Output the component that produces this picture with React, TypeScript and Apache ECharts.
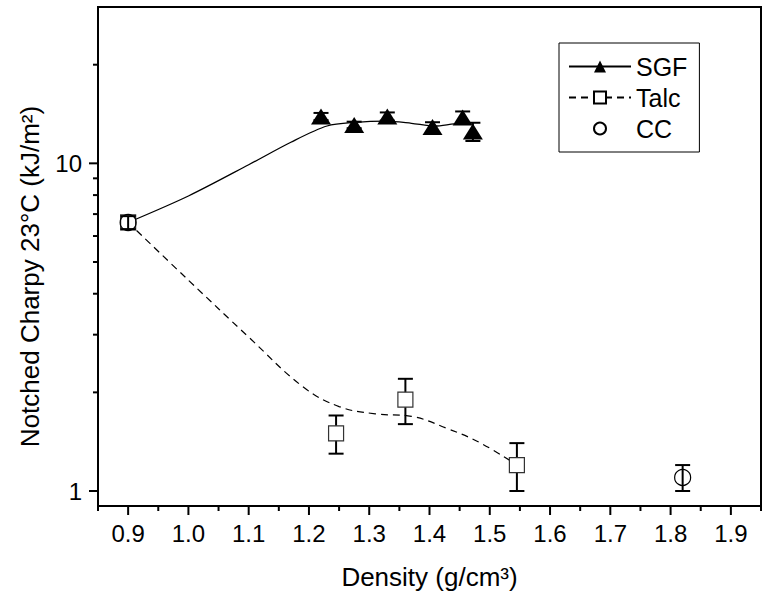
import React, { useEffect, useRef } from "react";
import * as echarts from "echarts";

// ---- data ----
const sgfDensity = [1.22, 1.275, 1.33, 1.405, 1.455, 1.472];
const sgfCharpy = [13.9, 13.1, 13.9, 12.9, 13.8, 12.5];
const sgfError = [0.35, 0.3, 0.4, 0.45, 0.6, 0.8];

const talcDensity = [0.9, 1.245, 1.36, 1.545];
const talcCharpy = [6.6, 1.5, 1.9, 1.2];
const talcError = [0.3, 0.2, 0.3, 0.2];

const ccDensity = [0.9, 1.82];
const ccCharpy = [6.6, 1.1];
const ccError = [0.3, 0.1];

// smoothed guide curves (as drawn in the reference)
const sgfFitDensity = [0.9, 1.0, 1.1, 1.17, 1.23, 1.278, 1.327, 1.37, 1.409, 1.441, 1.47];
const sgfFitCharpy = [6.6, 7.95, 9.9, 11.6, 13.0, 13.34, 13.45, 13.25, 13.0, 13.2, 13.3];

const talcFitDensity = [0.9, 1.0, 1.1, 1.19, 1.25, 1.31, 1.37, 1.43, 1.485, 1.545];
const talcFitCharpy = [6.6, 4.4, 2.95, 2.08, 1.81, 1.72, 1.69, 1.55, 1.4, 1.2];

// axes
const xMin = 0.85;
const xMax = 1.95;
const yMin = 0.9;
const yMax = 30;
const xMajorTicks = [0.9, 1.0, 1.1, 1.2, 1.3, 1.4, 1.5, 1.6, 1.7, 1.8, 1.9];
const xMinorTicks = [0.85, 0.95, 1.05, 1.15, 1.25, 1.35, 1.45, 1.55, 1.65, 1.75, 1.85, 1.95];
const yMajorTicks = [1, 10];
const yMinorTicks = [2, 3, 4, 5, 6, 7, 8, 9, 20];

const FONT = "'Liberation Sans', Arial, Helvetica, sans-serif";

const zip = (xs: number[], ys: number[]) => xs.map((x, i) => [x, ys[i]]);
const errData = (xs: number[], ys: number[], es: number[]) =>
  xs.map((x, i) => [x, ys[i] - es[i], ys[i] + es[i]]);

const errorBarSeries = (name: string, data: number[][], z: number) => ({
  type: "custom",
  name,
  silent: true,
  z,
  clip: false,
  encode: { x: 0, y: [1, 2] },
  data,
  renderItem: (_p: any, api: any) => {
    const x = api.value(0);
    const lo = api.coord([x, api.value(1)]);
    const hi = api.coord([x, api.value(2)]);
    const w = 7.5;
    const st = { stroke: "#000", lineWidth: 2 };
    return {
      type: "group",
      children: [
        { type: "line", shape: { x1: lo[0], y1: lo[1], x2: hi[0], y2: hi[1] }, style: st },
        { type: "line", shape: { x1: lo[0] - w, y1: lo[1], x2: lo[0] + w, y2: lo[1] }, style: st },
        { type: "line", shape: { x1: hi[0] - w, y1: hi[1], x2: hi[0] + w, y2: hi[1] }, style: st },
      ],
    };
  },
});

const tickSeries = (data: number[][], axis: "x" | "y", len: number) => ({
  type: "custom",
  silent: true,
  clip: false,
  z: 10,
  encode: { x: 0, y: 1 },
  data,
  renderItem: (_p: any, api: any) => {
    const p = api.coord([api.value(0), api.value(1)]);
    const shape =
      axis === "x"
        ? { x1: p[0], y1: p[1], x2: p[0], y2: p[1] + len }
        : { x1: p[0], y1: p[1], x2: p[0] - len, y2: p[1] };
    return { type: "line", shape, style: { stroke: "#000", lineWidth: 2 } };
  },
});

export default function App() {
  const ref = useRef<HTMLDivElement>(null);
  useEffect(() => {
    if (!ref.current) return;
    const chart = echarts.init(ref.current, null, { renderer: "svg" });
    chart.setOption({
      animation: false,
      backgroundColor: "#fff",
      textStyle: { fontFamily: FONT, color: "#000" },
      grid: {
        left: 98,
        top: 7,
        right: -10,
        bottom: 92,
        show: true,
        borderColor: "#000",
        borderWidth: 2,
        backgroundColor: "transparent",
      },
      legend: {
        orient: "vertical",
        left: 559,
        top: 43,
        padding: [11, 12, 11, 9],
        itemGap: 6,
        itemWidth: 62,
        itemHeight: 15,
        borderColor: "#000",
        borderWidth: 1,
        backgroundColor: "#fff",
        textStyle: { fontFamily: FONT, fontSize: 25, color: "#000" },
        data: ["SGF", "Talc", "CC"],
        selectedMode: false,
      },
      xAxis: {
        type: "value",
        min: xMin,
        max: xMax,
        interval: 0.05,
        splitLine: { show: false },
        axisTick: { show: false },
        axisLine: { lineStyle: { color: "#000", width: 2 } },
        axisLabel: {
          margin: 15,
          fontSize: 24,
          fontFamily: FONT,
          color: "#000",
          formatter: (v: number) => (Math.round(v * 20) % 2 === 0 ? v.toFixed(1) : ""),
        },
        name: "Density (g/cm³)",
        nameLocation: "middle",
        nameGap: 58,
        nameTextStyle: { fontSize: 26, fontFamily: FONT, color: "#000" },
      },
      yAxis: {
        type: "log",
        logBase: 10,
        min: yMin,
        max: yMax,
        splitLine: { show: false },
        axisTick: { show: false },
        minorTick: { show: false },
        axisLine: { lineStyle: { color: "#000", width: 2 } },
        axisLabel: {
          margin: 16,
          fontSize: 24,
          fontFamily: FONT,
          color: "#000",
          formatter: (v: number) =>
            Math.abs(v - 1) < 1e-6 ? "1" : Math.abs(v - 10) < 1e-6 ? "10" : "",
        },
        name: "Notched Charpy 23°C (kJ/m²)",
        nameLocation: "middle",
        nameGap: 55,
        nameRotate: 90,
        nameTextStyle: { fontSize: 26, fontFamily: FONT, color: "#000", padding: [0, 40, 0, 0] },
      },
      series: [
        errorBarSeries("errSGF", errData(sgfDensity, sgfCharpy, sgfError), 2),
        errorBarSeries("errTalc", errData(talcDensity, talcCharpy, talcError), 2),
        {
          type: "line",
          name: "SGF",
          data: zip(sgfFitDensity, sgfFitCharpy),
          smooth: 0.3,
          showSymbol: false,
          symbol: "triangle",
          symbolSize: 16,
          silent: true,
          z: 3,
          lineStyle: { color: "#000", width: 1.3 },
          itemStyle: { color: "#000" },
        },
        {
          type: "line",
          name: "Talc",
          data: zip(talcFitDensity, talcFitCharpy),
          smooth: 0.4,
          showSymbol: false,
          symbol: "rect",
          symbolSize: 14,
          silent: true,
          z: 3,
          lineStyle: { color: "#000", width: 1.2, type: [7, 5] },
          itemStyle: { color: "#fff", borderColor: "#000", borderWidth: 1 },
        },
        {
          type: "scatter",
          name: "SGF markers",
          data: zip(sgfDensity, sgfCharpy),
          symbol: "triangle",
          symbolSize: [20, 16],
          silent: true,
          z: 4,
          itemStyle: { color: "#000", opacity: 1 },
        },
        {
          type: "scatter",
          name: "Talc markers",
          data: zip(talcDensity, talcCharpy),
          symbol: "rect",
          symbolSize: 15,
          silent: true,
          z: 4,
          itemStyle: { color: "#fff", borderColor: "#333", borderWidth: 1.2, opacity: 1 },
        },
        {
          type: "line",
          name: "CC",
          data: zip(ccDensity, ccCharpy),
          symbol: "circle",
          symbolSize: 16,
          showSymbol: true,
          silent: true,
          z: 5,
          lineStyle: { opacity: 0 },
          itemStyle: { color: "rgba(255,255,255,0)", borderColor: "#000", borderWidth: 1.2 },
        },
        errorBarSeries("errCC", errData(ccDensity, ccCharpy, ccError), 6),
        tickSeries(xMajorTicks.map((v) => [v, yMin]), "x", 9),
        tickSeries(xMinorTicks.map((v) => [v, yMin]), "x", 5),
        tickSeries(yMajorTicks.map((v) => [xMin, v]), "y", 9),
        tickSeries(yMinorTicks.map((v) => [xMin, v]), "y", 5),
      ],
    });
    return () => chart.dispose();
  }, []);
  return (
    <div
      ref={ref}
      style={{ position: "fixed", left: 0, top: 0, width: 764, height: 598, background: "#fff" }}
    />
  );
}
